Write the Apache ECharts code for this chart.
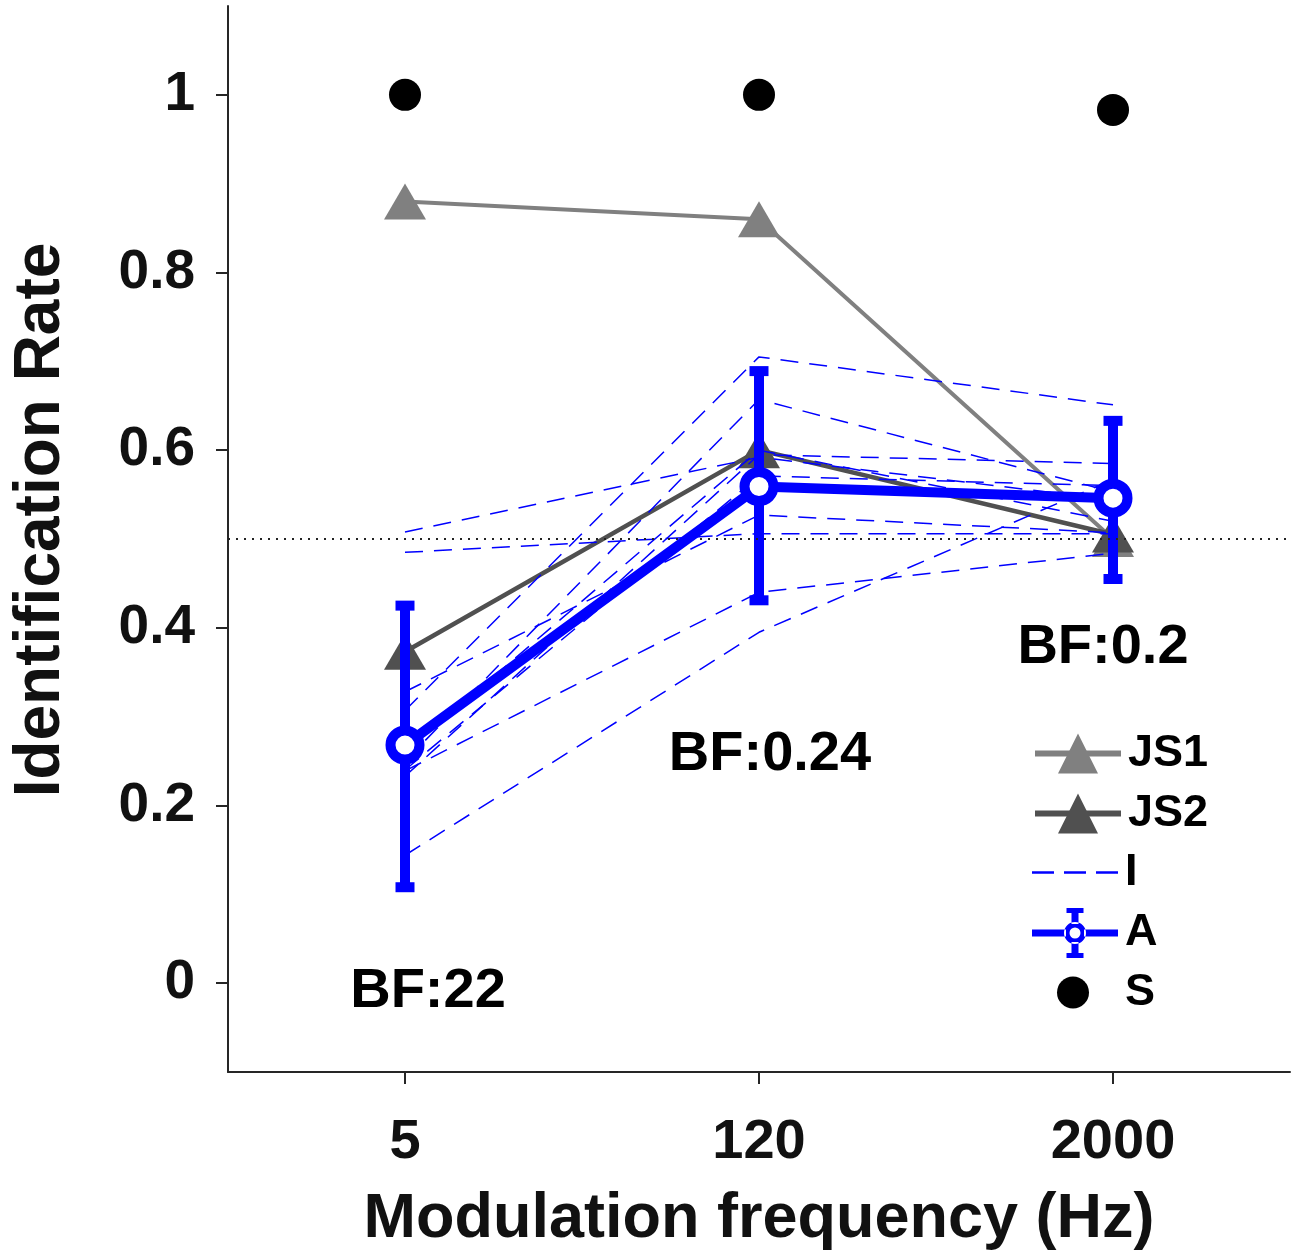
<!DOCTYPE html>
<html>
<head>
<meta charset="utf-8">
<script src="https://cdn.jsdelivr.net/npm/echarts@6/dist/echarts.min.js"></script>
<style>
  html, body { margin: 0; padding: 0; background: #fff; }
  #chart { width: 1298px; height: 1257px; }
</style>
</head>
<body>
<div id="chart"></div>
<script>
// ---------------- data ----------------
const freqLabels = ['5', '120', '2000'];
const yTicks = [0, 0.2, 0.4, 0.6, 0.8, 1];

const js1 = [0.88, 0.86, 0.50];
const js2 = [0.373, 0.600, 0.505];

// individual listeners (I)
const i1  = [0.508, 0.592, 0.544];
const i2  = [0.485, 0.506, 0.506];
const i3  = [0.307, 0.705, 0.651];
const i4  = [0.250, 0.657, 0.553];
const i5  = [0.260, 0.600, 0.520];
const i6  = [0.328, 0.527, 0.507];
const i7  = [0.240, 0.571, 0.560];
const i8  = [0.239, 0.440, 0.484];
const i9  = [0.233, 0.595, 0.585];
const i10 = [0.144, 0.395, 0.567];
const individuals = [i1, i2, i3, i4, i5, i6, i7, i8, i9, i10];

// average (A) with error bars
const aMean = [0.268, 0.559, 0.546];
const aLow  = [0.108, 0.431, 0.455];
const aHigh = [0.425, 0.689, 0.633];

// S
const sRate = [1.0, 1.0, 0.983];

// Bayes factor annotations
const bfText = ['BF:22', 'BF:0.24', 'BF:0.2'];
const bfY = [0, 0.257, 0.38];
const bfOffset = [[23, 8], [11, 0], [-10, 2]];

const chanceLevel = 0.5;

// ---------------- chart ----------------
const FONT = '"Liberation Sans", Arial, Helvetica, sans-serif';
const TXT = '#111111';
const AX = '#262626';
const BLUE = '#0000ff';

const chart = echarts.init(document.getElementById('chart'), null, { renderer: 'canvas' });

const series = [];
series.push({
  name: 'JS1', type: 'line', data: js1,
  symbol: 'triangle', symbolSize: [42, 36],
  lineStyle: { color: '#808080', width: 4 },
  itemStyle: { color: '#808080' },
  z: 2
});
series.push({
  name: 'JS2', type: 'line', data: js2,
  symbol: 'triangle', symbolSize: [42, 36],
  lineStyle: { color: '#505050', width: 4.5 },
  itemStyle: { color: '#505050' },
  z: 2
});
individuals.forEach(function (arr) {
  series.push({
    name: 'I', type: 'line', data: arr,
    symbol: 'none',
    lineStyle: { color: BLUE, width: 1.5, type: [18, 11] },
    itemStyle: { color: BLUE },
    z: 3
  });
});
// chance line helper
series.push({
  name: 'chance', type: 'line', data: [],
  markLine: {
    silent: true, symbol: ['none', 'none'],
    label: { show: false },
    lineStyle: { color: '#222', width: 2, type: [2, 6] },
    data: [{ yAxis: chanceLevel }]
  },
  z: 1
});
// error bars
series.push({
  name: 'Aerr', type: 'custom',
  data: aMean.map(function (m, k) { return [k, aLow[k], aHigh[k]]; }),
  renderItem: function (params, api) {
    const x = api.value(0);
    const lo = api.coord([x, api.value(1)]);
    const hi = api.coord([x, api.value(2)]);
    const bw = 10, cw = 19, ch = 10;
    return {
      type: 'group',
      children: [
        { type: 'rect', shape: { x: lo[0] - bw / 2, y: hi[1], width: bw, height: lo[1] - hi[1] }, style: { fill: BLUE } },
        { type: 'rect', shape: { x: hi[0] - cw / 2, y: hi[1] - ch / 2, width: cw, height: ch }, style: { fill: BLUE } },
        { type: 'rect', shape: { x: lo[0] - cw / 2, y: lo[1] - ch / 2, width: cw, height: ch }, style: { fill: BLUE } }
      ]
    };
  },
  z: 4
});
series.push({
  name: 'A', type: 'line', data: aMean,
  symbol: 'circle', symbolSize: 29,
  lineStyle: { color: BLUE, width: 10 },
  itemStyle: { color: '#ffffff', borderColor: BLUE, borderWidth: 10 },
  z: 5
});
series.push({
  name: 'S', type: 'scatter', data: sRate,
  symbol: 'circle', symbolSize: 32,
  itemStyle: { color: '#000000', opacity: 1 },
  z: 6
});
// annotations
series.push({
  name: 'BF', type: 'scatter',
  data: bfText.map(function (t, k) {
    return {
      value: [k, bfY[k]],
      label: { show: true, formatter: t, position: 'inside', offset: bfOffset[k],
               fontSize: 56, fontWeight: 'bold', fontFamily: FONT, color: '#000' }
    };
  }),
  symbolSize: 0,
  itemStyle: { opacity: 1 },
  silent: true,
  z: 7
});

const A_ICON = 'path://M0 21.5H34V28.5H0Z M52 21.5H86V28.5H52Z ' +
  'M39.5 5H46.5V16H39.5Z M39.5 34H46.5V45H39.5Z ' +
  'M34.5 0H51.5V5H34.5Z M34.5 45H51.5V50H34.5Z ' +
  'M54 25A11 11 0 1 0 32 25A11 11 0 1 0 54 25Z ' +
  'M48.5 25A5.5 5.5 0 1 1 37.5 25A5.5 5.5 0 1 1 48.5 25Z';
const I_ICON = 'path://M0 0H22V2.5H0Z M32 0H54V2.5H32Z M64 0H86V2.5H64Z';

function legendFor(item, left, top, w, h, textPad) {
  return {
    show: true, data: [item], left: left, top: top, orient: 'vertical',
    itemWidth: w, itemHeight: h, itemGap: 0, padding: 0,
    selectedMode: false,
    textStyle: { fontSize: 45, fontWeight: 'bold', fontFamily: FONT, color: '#000', padding: [0, 0, 0, textPad] }
  };
}

const option = {
  animation: false,
  backgroundColor: '#ffffff',
  grid: { left: 228, right: 8, top: 6, bottom: 185, containLabel: false },
  xAxis: {
    type: 'category', data: freqLabels, boundaryGap: true,
    name: 'Modulation frequency (Hz)', nameLocation: 'middle', nameGap: 116,
    nameTextStyle: { fontSize: 63, fontWeight: 'bold', fontFamily: FONT, color: TXT },
    axisLine: { show: true, onZero: false, lineStyle: { color: AX, width: 2 } },
    axisTick: { show: true, alignWithLabel: true, length: 12, inside: false, lineStyle: { color: AX, width: 2 } },
    axisLabel: { fontSize: 56, fontWeight: 'bold', fontFamily: FONT, color: TXT, margin: 43 },
    splitLine: { show: false }
  },
  yAxis: {
    type: 'value', min: -0.1, max: 1.1,
    name: 'Identification Rate', nameLocation: 'middle', nameGap: 155,
    nameTextStyle: { fontSize: 64, fontWeight: 'bold', fontFamily: FONT, color: TXT, padding: [0, 0, 0, 38] },
    axisLine: { show: true, onZero: false, lineStyle: { color: AX, width: 2 } },
    axisTick: { show: true, customValues: yTicks, length: 12, inside: false, lineStyle: { color: AX, width: 2 } },
    axisLabel: { customValues: yTicks, fontSize: 55, fontWeight: 'bold', fontFamily: FONT, color: TXT, margin: 33 },
    splitLine: { show: false }
  },
  legend: [
    legendFor({ name: 'JS1', lineStyle: { width: 6 } }, 1032, 731, 86, 50, 2),
    legendFor({ name: 'JS2', lineStyle: { width: 6 } }, 1032, 791, 86, 50, 2),
    legendFor({ name: 'I', icon: I_ICON, itemStyle: { color: BLUE } }, 1032, 850, 86, 3, 2),
    legendFor({ name: 'A', icon: A_ICON, itemStyle: { color: BLUE, borderWidth: 0 } }, 1032, 908, 86, 50, 2),
    legendFor({ name: 'S', icon: 'circle', itemStyle: { color: '#000', opacity: 1 } }, 1057, 970, 32, 32, 31)
  ],
  series: series
};

chart.setOption(option);
</script>
</body>
</html>
